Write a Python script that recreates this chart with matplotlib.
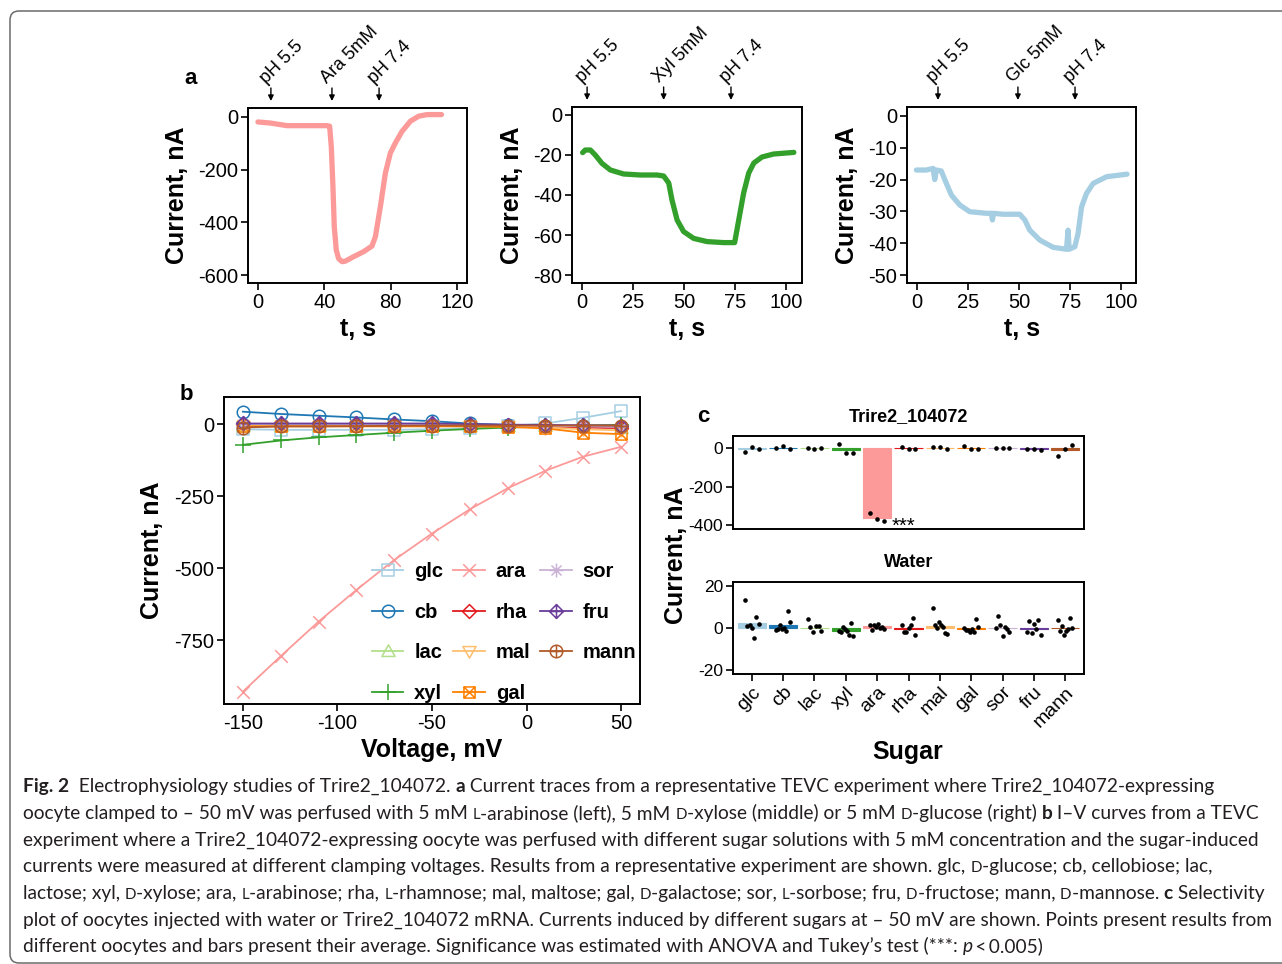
import re
import matplotlib
matplotlib.use('Agg')
import matplotlib.pyplot as plt
import numpy as np
from matplotlib.path import Path
from matplotlib.patches import FancyBboxPatch
from matplotlib import font_manager
from matplotlib.transforms import IdentityTransform

# ---------------- data ----------------
# panel a traces (key points)
ara_t = [0, 7.4, 17.5, 25.5, 41.6, 43.2, 44.2, 45.2, 46.0, 47.2, 48.6, 50.7, 52.7, 57.7, 63.7,
         68.7, 70.8, 73.8, 76.8, 79.8, 82.8, 86.8, 91.9, 96.9, 101.9, 110.6]
ara_i = [-19, -23, -33, -33, -33, -35, -112, -264, -416, -505, -537, -549, -547, -530, -511,
         -490, -454, -340, -213, -137, -99, -55, -16, 3, 9, 9]
xyl_t = [0.3, 1.6, 4.1, 6.5, 9.8, 13.9, 20.4, 28.6, 36.8, 40, 42.5, 44.1, 46.6, 49.8, 54.7,
         61.3, 69.4, 74.8, 76.8, 79.2, 81.7, 84.2, 88.2, 93.9, 103.8]
xyl_i = [-18.8, -17.5, -17.5, -20, -24.2, -27.5, -29.5, -30, -30, -30.5, -34, -42.5, -52.5,
         -58.3, -61.7, -63.3, -63.8, -63.8, -52.5, -39, -29, -24, -21, -19.5, -18.7]
glc_t = [-0.3, 4.6, 7.9, 8.7, 9.5, 11.9, 14.4, 16.9, 21, 25.9, 34, 36.5, 37, 37.5, 42.2, 50.4,
         52.9, 55.3, 60.2, 66.8, 73.3, 74.1, 74.6, 77.4, 79, 80.7, 83.1, 86.4, 93, 103]
glc_i = [-17, -17, -16.5, -20, -17, -17.3, -21.2, -24.9, -28, -30.1, -30.6, -30.6, -32.7, -30.6,
         -30.9, -30.9, -32.7, -35.9, -39, -41.3, -41.9, -35.9, -41.9, -41.1, -36.9, -28.6,
         -24.4, -21.2, -19.1, -18.3]
ara_events = [(7.8, 'pH 5.5'), (44.6, 'Ara 5mM'), (73, 'pH 7.4')]
xyl_events = [(2.5, 'pH 5.5'), (40, 'Xyl 5mM'), (73, 'pH 7.4')]
glc_events = [(10.3, 'pH 5.5'), (49.5, 'Glc 5mM'), (77.5, 'pH 7.4')]

# panel b: I-V curves
voltage = [-150, -130, -110, -90, -70, -50, -30, -10, 10, 30, 50]
iv = {
    'glc':  [-18, -20, -20, -20, -20, -18, -14, -6, 2, 22, 45],
    'cb':   [43, 35, 29, 23, 16, 10, 2, -3, -5, -8, -10],
    'lac':  [-5, -5, -5, -5, -5, -5, -5, -5, -8, -10, -12],
    'xyl':  [-72, -57, -46, -38, -30, -23, -17, -12, -8, -5, -3],
    'ara':  [-929, -806, -686, -576, -472, -380, -296, -223, -162, -113, -79],
    'rha':  [0, 0, 0, 0, 0, -2, -4, -6, -8, -12, -14],
    'mal':  [-5, -5, -5, -5, -5, -5, -6, -8, -12, -18, -22],
    'gal':  [-8, -8, -8, -8, -8, -8, -8, -10, -15, -30, -35],
    'sor':  [0, 0, 0, 0, 0, 0, -2, -4, -6, -8, -10],
    'fru':  [2, 2, 2, 2, 2, 2, 0, -2, -3, -4, -5],
    'mann': [-12, -8, -8, -7, -6, -5, -5, -5, -5, -5, -5],
}

# panel c: selectivity
sugars = ['glc', 'cb', 'lac', 'xyl', 'ara', 'rha', 'mal', 'gal', 'sor', 'fru', 'mann']
colors = ['#A6CEE3', '#1F78B4', '#B2DF8A', '#33A02C', '#FB9A99', '#E31A1C',
          '#FDBF6F', '#FF7F00', '#CAB2D6', '#6A3D9A', '#B15928']
trire_mean = [-2, 1, -1, -8, -363, -1, 1, -1, 0, -2, -8]
trire_pts = [[-17, 9, -5], [3, 12, -3], [0, -2, -1], [21, -23, -23], [-339, -370, -381],
             [9, -3, -3], [5, 7, -2], [10, -2, -2], [0, 0, 0], [-2, -2, -7], [-38, -2, 16]]
water_mean = [2.5, 1.6, 0.2, -1.2, 0.9, -0.5, 1.1, -0.6, 0.2, -0.5, 0.3]
water_pts = [[13.3, 1.1, 1.4, 0.2, -4.6, 5.3, 1.9],
             [-0.8, -0.5, 1.4, -0.5, 0.3, -1.4, 8.2, 3.1],
             [4.4, 0.8, -1.9, 0.9, 0.9, -1.1],
             [-1.1, -1.9, 0.6, -0.5, -1.1, -3.3, 2.5, -3.8],
             [1.4, -0.8, 1.7, 0.8, 2.0, 0.3, 0.8, -0.2],
             [1.4, -1.9, -1.9, 0.3, 1.4, 4.9, -3.1],
             [9.7, 1.4, 0.3, 2.8, 1.4, 0.6, -2.4, -2.7],
             [0.3, -0.8, -0.8, -1.9, -0.2, -1.9, 4.6, 0.6],
             [0.2, 5.8, 1.4, -3.5, 0.6, -0.5, -1.6],
             [-1.9, 3.5, -2.2, 2.0, -0.2, 4.1, -3.3],
             [3.9, -1.1, 0.9, -3.3, -1.1, -0.2, 4.9, 0.0]]

caption = [
    "{b:Fig. 2}  Electrophysiology studies of Trire2_104072. {b:a} Current traces from a representative TEVC experiment where Trire2_104072-expressing",
    "oocyte clamped to \u2013 50 mV was perfused with 5 mM {s:L}-arabinose (left), 5 mM {s:D}-xylose (middle) or 5 mM {s:D}-glucose (right) {b:b} I\u2013V curves from a TEVC",
    "experiment where a Trire2_104072-expressing oocyte was perfused with different sugar solutions with 5 mM concentration and the sugar-induced",
    "currents were measured at different clamping voltages. Results from a representative experiment are shown. glc, {s:D}-glucose; cb, cellobiose; lac,",
    "lactose; xyl, {s:D}-xylose; ara, {s:L}-arabinose; rha, {s:L}-rhamnose; mal, maltose; gal, {s:D}-galactose; sor, {s:L}-sorbose; fru, {s:D}-fructose; mann, {s:D}-mannose. {b:c} Selectivity",
    "plot of oocytes injected with water or Trire2_104072 mRNA. Currents induced by different sugars at \u2013 50 mV are shown. Points present results from",
    "different oocytes and bars present their average. Significance was estimated with ANOVA and Tukey\u2019s test (***: {i:p}\u2009<\u20090.005)",
]

# ---------------- figure ----------------
W, H = 1282, 964
plt.rcParams['font.family'] = ['Liberation Sans', 'DejaVu Sans']
plt.rcParams['axes.unicode_minus'] = False
fig = plt.figure(figsize=(W / 100, H / 100), dpi=100)
fig.patch.set_facecolor('white')


def ax_px(l, t, r, b):
    return fig.add_axes([l / W, 1 - b / H, (r - l) / W, (b - t) / H])


def ftext(x, y, s, **kw):
    return fig.text(x / W, 1 - y / H, s, **kw)


def style(ax, ls=14.5):
    for s in ax.spines.values():
        s.set_linewidth(1.4)
        s.set_color('black')
    ax.tick_params(direction='out', length=5, width=1.2, labelsize=ls, pad=2, colors='black')


# frame
frame = FancyBboxPatch((10, 1), 1300, 952, boxstyle='round,pad=0,rounding_size=9',
                       transform=IdentityTransform(), facecolor='none', edgecolor='#6b6b6b',
                       linewidth=1.1)
fig.patches.append(frame)


# ---------- panel a ----------
def trace_panel(box, t, y, color, xlim, ylim, xticks, yticks, events):
    ax = ax_px(*box)
    ax.plot(t, y, color=color, lw=3.8, solid_capstyle='round', solid_joinstyle='round')
    ax.set_xlim(xlim)
    ax.set_ylim(ylim)
    ax.set_xticks(xticks)
    ax.set_yticks(yticks)
    style(ax)
    trans = ax.get_xaxis_transform()
    h = box[3] - box[1]
    for tt, lab in events:
        ax.annotate('', xy=(tt, 1 + 7 / h), xycoords=trans, xytext=(tt, 1 + 20 / h),
                    textcoords=trans, annotation_clip=False,
                    arrowprops=dict(arrowstyle='-|>', color='black', lw=1.0,
                                    mutation_scale=8, shrinkA=0, shrinkB=0))
        ax.text(tt - 1.0, 1 + 21 / h, lab, transform=trans, rotation=45,
                rotation_mode='anchor', ha='left', va='bottom', fontsize=13)
    return ax


trace_panel((248, 108, 467, 283), ara_t, ara_i, '#FB9A99', (-6, 126), (-630, 34),
            [0, 40, 80, 120], [0, -200, -400, -600], ara_events)
trace_panel((572, 107, 802, 283), xyl_t, xyl_i, '#33A02C', (-4.9, 107.8), (-84, 4),
            [0, 25, 50, 75, 100], [0, -20, -40, -60, -80], xyl_events)
trace_panel((907, 107, 1136, 283), glc_t, glc_i, '#A6CEE3', (-4.9, 107.4), (-52.5, 2.8),
            [0, 25, 50, 75, 100], [0, -10, -20, -30, -40, -50], glc_events)

lab_kw = dict(ha='center', va='center', fontsize=18, fontweight='bold')
for x in (177, 512, 847):
    ftext(x, 195, 'Current, nA', rotation=90, **lab_kw)
for x in (358, 687, 1022):
    ftext(x, 329, 't, s', **lab_kw)
ftext(191, 78, 'a', ha='center', va='center', fontsize=16, fontweight='bold')


# ---------- panel b ----------
def P(verts, codes):
    return Path(verts, codes)


M, L, C = Path.MOVETO, Path.LINETO, Path.CLOSEPOLY
sq = P([(-1, -1), (1, -1), (1, 1), (-1, 1), (-1, -1)], [M, L, L, L, C])
xx = P([(-1, -1), (1, 1), (-1, 1), (1, -1)], [M, L, M, L])
pl = P([(0, -1), (0, 1), (-1, 0), (1, 0)], [M, L, M, L])
xs = P([(-.72, -.72), (.72, .72), (-.72, .72), (.72, -.72)], [M, L, M, L])
dm = P([(0, -1), (1, 0), (0, 1), (-1, 0), (0, -1)], [M, L, L, L, C])
ci = Path.unit_circle()
tri_up = P([(0, 1), (1, -0.75), (-1, -0.75), (0, 1)], [M, L, L, C])
tri_dn = P([(0, -1), (1, 0.75), (-1, 0.75), (0, -1)], [M, L, L, C])
markers = {
    'glc': (sq, 8), 'cb': (ci, 9), 'lac': (tri_up, 9.5), 'xyl': (pl, 11),
    'ara': (xx, 9), 'rha': (dm, 10), 'mal': (tri_dn, 9.5),
    'gal': (Path.make_compound_path(sq, xx), 8),
    'sor': (Path.make_compound_path(pl, xs), 10),
    'fru': (Path.make_compound_path(dm, pl), 10),
    'mann': (Path.make_compound_path(ci, pl), 9),
}
axb = ax_px(224, 397, 640, 704)
for name, col in zip(sugars, colors):
    mk, ms = markers[name]
    axb.plot(voltage, iv[name], color=col, lw=1.3, marker=mk, markersize=ms,
             markerfacecolor='none', markeredgecolor=col, markeredgewidth=1.1, label=name)
axb.set_xlim(-160, 60)
axb.set_ylim(-972, 94)
axb.set_xticks([-150, -100, -50, 0, 50])
axb.set_yticks([0, -250, -500, -750])
style(axb)
leg = axb.legend(ncol=3, frameon=False, loc='upper left',
                 bbox_to_anchor=(372 / W, 1 - 562 / H), bbox_transform=fig.transFigure,
                 borderpad=0, borderaxespad=0, handlelength=1.55, handletextpad=0.55,
                 columnspacing=0.5, labelspacing=1.07,
                 prop=dict(weight='bold', size=14.5, family='Liberation Sans'))
ftext(152, 550, 'Current, nA', rotation=90, **lab_kw)
ftext(432, 750, 'Voltage, mV', **lab_kw)
ftext(186, 394, 'b', ha='center', va='center', fontsize=16, fontweight='bold')

# ---------- panel c ----------
xpos = np.arange(1, len(sugars) + 1)


def sel_panel(box, means, pts, ylim, yticks, title, show_x):
    ax = ax_px(*box)
    ax.bar(xpos, means, width=0.9, color=colors, edgecolor=colors, linewidth=0.8)
    for i, p in enumerate(pts):
        off = np.linspace(-0.22, 0.22, len(p))
        ax.plot(xpos[i] + off, p, 'o', color='black', markersize=3.3, markeredgewidth=0)
    ax.set_xlim(0.4, 11.6)
    ax.set_ylim(ylim)
    ax.set_yticks(yticks)
    style(ax, ls=12.5)
    if show_x:
        ax.set_xticks(xpos)
        ax.set_xticklabels(sugars, rotation=45, ha='right', rotation_mode='anchor', fontsize=14)
    else:
        ax.set_xticks([])
    ax.set_title(title, fontsize=13, fontweight='bold', pad=10.5)
    return ax


axc1 = sel_panel((733, 436, 1084, 529), trire_mean, trire_pts, (-421, 64), [0, -200, -400],
                 'Trire2_104072', False)
axc1.text(5.47, -405, '***', ha='left', va='center', fontsize=14.5, clip_on=False)
axc2 = sel_panel((733, 582, 1084, 674), water_mean, water_pts, (-21.7, 21.9), [20, 0, -20],
                 'Water', True)
ftext(676, 555, 'Current, nA', rotation=90, **lab_kw)
ftext(908, 752, 'Sugar', **lab_kw)
ftext(703, 416, 'c', ha='center', va='center', fontsize=16, fontweight='bold')

# ---------- caption ----------
names = {f.name for f in font_manager.fontManager.ttflist}
cap_font = 'Lato' if 'Lato' in names else ('Open Sans' if 'Open Sans' in names else 'DejaVu Sans')
CAPCOL = '#231F20'
renderer = fig.canvas.get_renderer()


def parse(line):
    parts, pos = [], 0
    for m in re.finditer(r'\{(\w):([^}]*)\}', line):
        if m.start() > pos:
            parts.append(('n', line[pos:m.start()]))
        parts.append((m.group(1), m.group(2)))
        pos = m.end()
    if pos < len(line):
        parts.append(('n', line[pos:]))
    return parts


def props(kind, size):
    p = dict(family=[cap_font, 'DejaVu Sans'], fontsize=size, color=CAPCOL)
    if kind == 'b':
        p['fontweight'] = 'bold'
    if kind == 'i':
        p['fontstyle'] = 'italic'
    if kind == 's':
        p['fontsize'] = size * 0.78
    return p


def seg_width(s, pr):
    t = fig.text(0, 0, '|' + s + '|', **pr)
    w1 = t.get_window_extent(renderer).width
    t.remove()
    t = fig.text(0, 0, '||', **pr)
    w2 = t.get_window_extent(renderer).width
    t.remove()
    return w1 - w2


def line_width(line, size):
    return sum(seg_width(s, props(k, size)) for k, s in parse(line))


size = 10 * 1243 / line_width(caption[2], 10)
x0 = 23
for j, line in enumerate(caption):
    yb = 792 + j * 26.7
    x = x0
    for k, s in parse(line):
        pr = props(k, size)
        ftext(x, yb, s, ha='left', va='baseline', **pr)
        x += seg_width(s, pr)

fig.savefig('out.png', dpi=100, facecolor='white')
